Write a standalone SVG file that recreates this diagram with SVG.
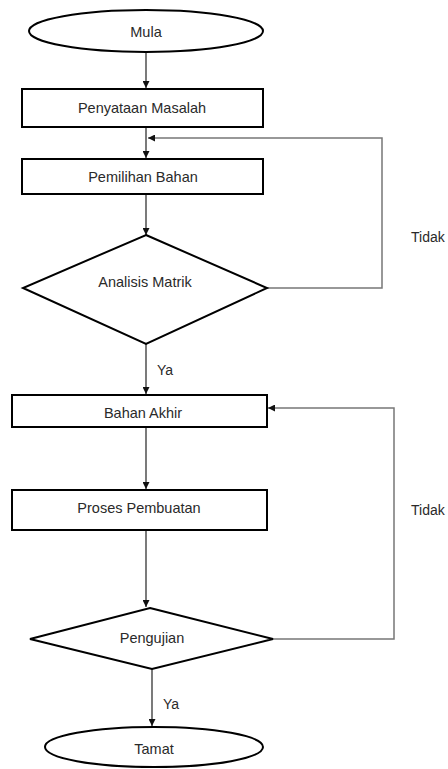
<svg xmlns="http://www.w3.org/2000/svg" width="448" height="769" viewBox="0 0 448 769">
<defs>
<marker id="ah" viewBox="0 0 10 10" refX="10" refY="5" markerWidth="7" markerHeight="7" markerUnits="userSpaceOnUse" orient="auto">
<path d="M0,0 L10,5 L0,10 z" fill="#111"/>
</marker>
</defs>
<style>
.shape{fill:#fff;stroke:#000;stroke-width:2}
.lbl{font-family:"Liberation Sans",Arial,sans-serif;font-size:14.5px;fill:#2a2a2a;text-anchor:middle;dominant-baseline:central}
.side{font-family:"Liberation Sans",Arial,sans-serif;font-size:14px;fill:#2a2a2a;dominant-baseline:central}
.con{fill:none;stroke:#222;stroke-width:1.2}
.fb{fill:none;stroke:#777;stroke-width:1.5}
</style>
<rect width="448" height="769" fill="#fff"/>
<g id="connectors">
<line class="con" x1="146" y1="52" x2="146" y2="88" marker-end="url(#ah)"/>
<line class="con" x1="146" y1="127" x2="146" y2="158" marker-end="url(#ah)"/>
<polyline class="fb" points="267,288 382,288 382,138 148,138" marker-end="url(#ah)"/>
<line class="con" x1="146" y1="195" x2="146" y2="235" marker-end="url(#ah)"/>
<line class="con" x1="146" y1="344" x2="146" y2="394" marker-end="url(#ah)"/>
<line class="con" x1="146" y1="427" x2="146" y2="489" marker-end="url(#ah)"/>
<line class="con" x1="146" y1="530" x2="146" y2="607" marker-end="url(#ah)"/>
<polyline class="fb" points="273,639 394,639 394,408 268,408" marker-end="url(#ah)"/>
<line class="con" x1="152" y1="669" x2="152" y2="726" marker-end="url(#ah)"/>
<text class="side" x="157" y="370">Ya</text>
<text class="side" x="163" y="704">Ya</text>
<text class="side" x="411" y="237">Tidak</text>
<text class="side" x="411" y="510">Tidak</text>
</g>
<g id="mula">
<ellipse class="shape" cx="146" cy="31" rx="117" ry="21"/>
<text class="lbl" x="146" y="32">Mula</text>
</g>
<g id="penyataan">
<rect class="shape" x="22" y="89" width="241" height="38"/>
<text class="lbl" x="142" y="108">Penyataan Masalah</text>
</g>
<g id="pemilihan">
<rect class="shape" x="22" y="159" width="241" height="35"/>
<text class="lbl" x="143" y="177">Pemilihan Bahan</text>
</g>
<g id="analisis">
<polygon class="shape" points="146,235 267,288 146,344 23,288"/>
<text class="lbl" x="145" y="282">Analisis Matrik</text>
</g>
<g id="bahanakhir">
<rect class="shape" x="12" y="395" width="255" height="32"/>
<text class="lbl" x="143" y="413">Bahan Akhir</text>
</g>
<g id="proses">
<rect class="shape" x="12" y="490" width="255" height="40"/>
<text class="lbl" x="139" y="508">Proses Pembuatan</text>
</g>
<g id="pengujian">
<polygon class="shape" points="150,608 273,639 152,669 30,639"/>
<text class="lbl" x="152" y="638">Pengujian</text>
</g>
<g id="tamat">
<ellipse class="shape" cx="154" cy="747" rx="109" ry="20"/>
<text class="lbl" x="154" y="749">Tamat</text>
</g>
</svg>
